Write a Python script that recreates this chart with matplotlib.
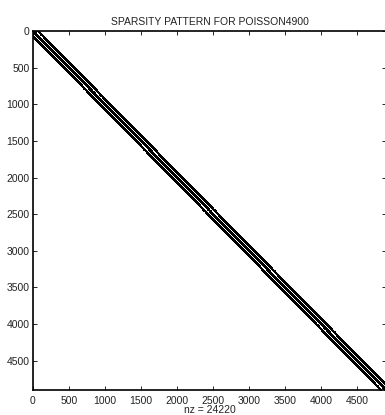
import matplotlib
matplotlib.use("Agg")
import matplotlib.pyplot as plt
import numpy as np

plt.rcParams['font.family'] = ['Liberation Sans', 'DejaVu Sans']

# 2D Poisson matrix on a 70x70 grid (5-point stencil)
grid_n = 70
stencil_offsets = [-70, -1, 0, 1, 70]
title_text = "SPARSITY PATTERN FOR POISSON4900"
tick_values = [0, 500, 1000, 1500, 2000, 2500, 3000, 3500, 4000, 4500]

n = grid_n * grid_n
rows, cols = [], []
for k in stencil_offsets:
    i = np.arange(n)
    j = i + k
    ok = (j >= 0) & (j < n)
    if abs(k) == 1:
        # no coupling across grid row boundaries
        ok &= (np.minimum(i, j) % grid_n) != grid_n - 1
    rows.append(i[ok])
    cols.append(j[ok])
rows = np.concatenate(rows) + 1
cols = np.concatenate(cols) + 1
nz = len(rows)

fig = plt.figure(figsize=(3.85, 4.15), dpi=100)
ax = fig.add_axes([33 / 385, 25 / 415, 353 / 385, 359 / 415])
ax.plot(cols, rows, 's', color='k', markersize=1.6, markeredgewidth=0)
ax.set_xlim(0, n + 1)
ax.set_ylim(n + 1, 0)
ax.set_xticks(tick_values)
ax.set_yticks(tick_values)
ax.tick_params(direction='in', length=3, labelsize=7.5, top=True, right=True,
               width=0.6, pad=2.5, labelcolor='#222222')
ax.tick_params(axis='x', pad=4.5)
for s in ax.spines.values():
    s.set_linewidth(1.2)
ax.set_title(title_text, fontsize=7.5, pad=4, color='#222222')
ax.set_xlabel("nz = %d" % nz, fontsize=7.5, labelpad=-1, color='#222222')

fig.savefig("out.png", dpi=100)
